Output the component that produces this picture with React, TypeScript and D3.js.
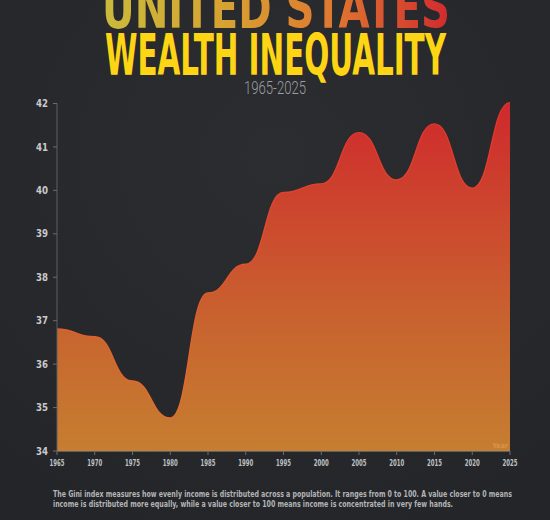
import React from "react";
import * as d3 from "d3";

const years = [1965, 1970, 1975, 1980, 1985, 1990, 1995, 2000, 2005, 2010, 2015, 2020, 2025];
const gini = [36.81, 36.63, 35.61, 34.76, 37.64, 38.3, 39.95, 40.15, 41.33, 40.24, 41.53, 40.05, 42.02];
const yTicks = [34, 35, 36, 37, 38, 39, 40, 41, 42];
const xTicks = [1965, 1970, 1975, 1980, 1985, 1990, 1995, 2000, 2005, 2010, 2015, 2020, 2025];
const titleTop = "UNITED STATES";
const titleMain = "WEALTH INEQUALITY";
const subtitle = "1965-2025";
const note1 = "The Gini index measures how evenly income is distributed across a population. It ranges from 0 to 100. A value closer to 0 means";
const note2 = "income is distributed more equally, while a value closer to 100 means income is concentrated in very few hands.";

const W = 550, H = 520;
const CONDENSED = "'DejaVu Sans Condensed', 'Liberation Sans Narrow', 'DejaVu Sans', sans-serif";

export default function App() {
  const x = d3.scaleLinear().domain([1965, 2025]).range([57, 510]);
  const y = d3.scaleLinear().domain([34, 42]).range([451, 103.5]);
  const pts = years.map((yr, i) => ({ yr, v: gini[i] }));
  const area = d3.area<{ yr: number; v: number }>()
    .x(d => x(d.yr)).y0(y(34)).y1(d => y(d.v)).curve(d3.curveBumpX);
  const line = d3.line<{ yr: number; v: number }>()
    .x(d => x(d.yr)).y(d => y(d.v)).curve(d3.curveBumpX);

  return (
    <svg width={W} height={H} style={{ position: "absolute", left: 0, top: 0, display: "block" }}>
      <defs>
        <radialGradient id="bg" cx="0.5" cy="0.3" r="0.8">
          <stop offset="0" stopColor="#2b2d30" />
          <stop offset="1" stopColor="#232528" />
        </radialGradient>
        <linearGradient id="title1" x1="102" x2="450" y1="0" y2="0" gradientUnits="userSpaceOnUse">
          <stop offset="0" stopColor="#c9bb3c" />
          <stop offset="0.35" stopColor="#d7a232" />
          <stop offset="0.65" stopColor="#df7a30" />
          <stop offset="1" stopColor="#d22a2e" />
        </linearGradient>
        <linearGradient id="areaG" x1="0" x2="0" y1="103" y2="451" gradientUnits="userSpaceOnUse">
          <stop offset="0" stopColor="#cf292c" />
          <stop offset="0.35" stopColor="#cc4a2e" />
          <stop offset="0.65" stopColor="#c8652f" />
          <stop offset="1" stopColor="#c67e30" />
        </linearGradient>
        <linearGradient id="lineG" x1="0" x2="0" y1="103" y2="451" gradientUnits="userSpaceOnUse">
          <stop offset="0" stopColor="#e0302c" />
          <stop offset="0.5" stopColor="#e0552c" />
          <stop offset="1" stopColor="#e0762e" />
        </linearGradient>
      </defs>
      <rect x={0} y={0} width={W} height={H} fill="url(#bg)" />

      <text x={102} y={28} fontFamily={CONDENSED} fontWeight="bold" fontSize={57}
        textLength={348} lengthAdjust="spacingAndGlyphs" fill="url(#title1)">{titleTop}</text>
      <text x={105} y={75} fontFamily={CONDENSED} fontWeight="bold" fontSize={57}
        textLength={341} lengthAdjust="spacingAndGlyphs" fill="#fdd514">{titleMain}</text>
      <text x={244} y={94} fontFamily="Roboto, sans-serif" fontWeight={300} fontSize={19}
        textLength={62} lengthAdjust="spacingAndGlyphs" fill="#9c9ea1">{subtitle}</text>

      <path d={area(pts) || ""} fill="url(#areaG)" />
      <path d={line(pts) || ""} fill="none" stroke="url(#lineG)" strokeWidth={1.4} />

      <text x={508} y={448} textAnchor="end" fontFamily={CONDENSED} fontWeight="bold" fontSize={7}
        fill="#e8a868" opacity={0.55}>Year</text>

      <line x1={57} x2={57} y1={y(42)} y2={y(34)} stroke="#5d5f62" strokeWidth={1} />
      {yTicks.map(t => (
        <g key={t}>
          <line x1={53} x2={57} y1={y(t)} y2={y(t)} stroke="#6a6c6f" />
          <text x={48} y={y(t) + 3.6} textAnchor="end" fontFamily={CONDENSED} fontWeight="bold"
            fontSize={10} textLength={12} lengthAdjust="spacingAndGlyphs" fill="#c9cacc">{t}</text>
        </g>
      ))}
      <line x1={57} x2={510} y1={451.5} y2={451.5} stroke="#5d5f62" />
      {xTicks.map(t => (
        <g key={t}>
          <line x1={x(t)} x2={x(t)} y1={451} y2={455} stroke="#6a6c6f" />
          <text x={x(t)} y={466} textAnchor="middle" fontFamily={CONDENSED} fontWeight="bold"
            fontSize={8.5} textLength={15} lengthAdjust="spacingAndGlyphs" fill="#bfc0c2">{t}</text>
        </g>
      ))}

      <text x={53} y={496.5} fontFamily={CONDENSED} fontWeight="bold" fontSize={8}
        textLength={459} lengthAdjust="spacingAndGlyphs" fill="#b3b4b6">{note1}</text>
      <text x={53} y={506.8} fontFamily={CONDENSED} fontWeight="bold" fontSize={8}
        textLength={400} lengthAdjust="spacingAndGlyphs" fill="#b3b4b6">{note2}</text>
    </svg>
  );
}
